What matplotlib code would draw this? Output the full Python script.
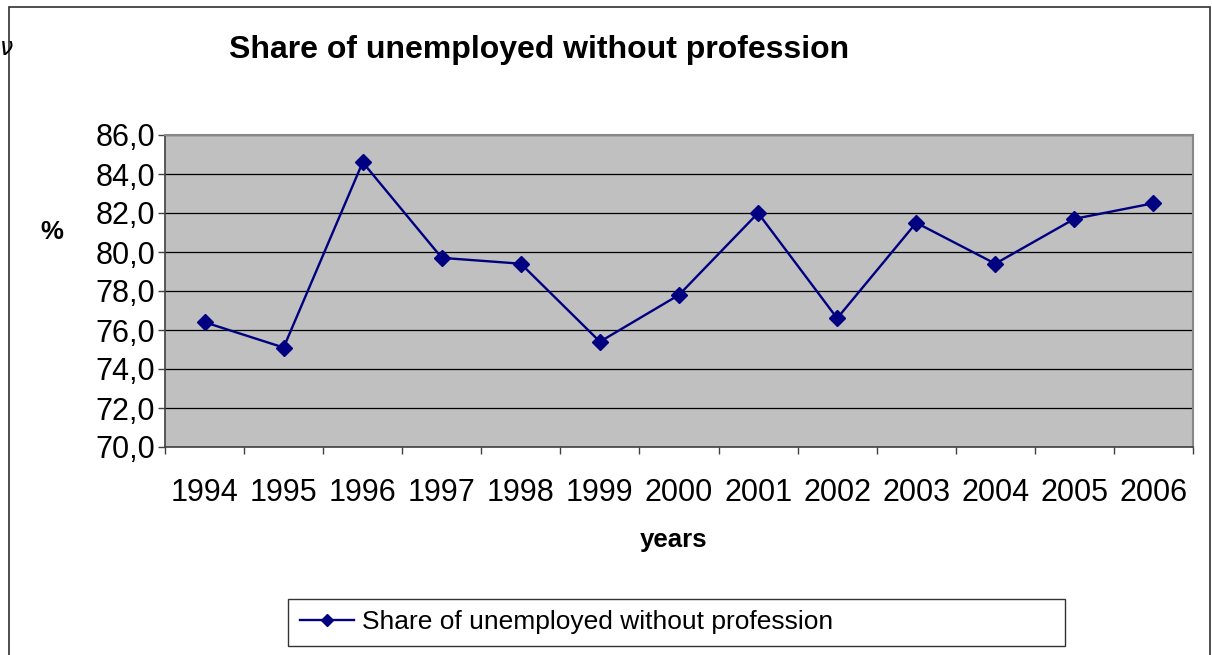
import matplotlib
matplotlib.use("Agg")
import matplotlib.pyplot as plt
from matplotlib.patches import Rectangle

years = ["1994", "1995", "1996", "1997", "1998", "1999", "2000",
         "2001", "2002", "2003", "2004", "2005", "2006"]
share = [76.4, 75.1, 84.6, 79.7, 79.4, 75.4, 77.8,
         82.0, 76.6, 81.5, 79.4, 81.7, 82.5]
yticks = [70, 72, 74, 76, 78, 80, 82, 84, 86]
ytick_labels = ["70,0", "72,0", "74,0", "76,0", "78,0", "80,0", "82,0", "84,0", "86,0"]
series_name = "Share of unemployed without profession"
title = "Share of unemployed without profession"

plt.rcParams['font.family'] = ['Liberation Sans', 'DejaVu Sans']

W, H = 1212, 655
fig = plt.figure(figsize=(W / 100, H / 100), dpi=100)
fig.patch.set_facecolor('white')

def fx(px):
    return px / W

def fy(py):
    return 1 - py / H

left, right, top, bottom = 165, 1193, 135, 447
ax = fig.add_axes([fx(left), fy(bottom), fx(right - left), (bottom - top) / H])
ax.set_facecolor('#C0C0C0')

x = list(range(len(years)))
ax.plot(x, share, color='#000080', lw=1.7, marker='D', ms=8.5,
        markerfacecolor='#000080', markeredgecolor='#000080', label=series_name,
        zorder=3)

ax.set_xlim(-0.5, len(years) - 0.5)
ax.set_ylim(70, 86)
ax.set_yticks(yticks)
ax.set_yticklabels(ytick_labels, fontsize=22)
ax.yaxis.grid(True, color='black', lw=0.9)
ax.set_axisbelow(True)

ax.set_xticks([i - 0.5 for i in range(len(years) + 1)])
ax.set_xticklabels([])
ax.set_xticks(x, minor=True)
ax.set_xticklabels(years, minor=True, fontsize=22)
ax.tick_params(axis='x', which='major', direction='out', length=5, width=1, color='#404040')
ax.tick_params(axis='x', which='minor', length=0, pad=22)
ax.tick_params(axis='y', direction='out', length=5, width=1, color='#404040', pad=2)

for s in ['left', 'bottom']:
    ax.spines[s].set_color('#404040')
    ax.spines[s].set_linewidth(1.2)
for s in ['top', 'right']:
    ax.spines[s].set_color('#888888')
    ax.spines[s].set_linewidth(1.5)

fig.text(fx(539), fy(50), title, fontsize=23, fontweight='bold',
         ha='center', va='center')
fig.text(fx(52), fy(232), "%", fontsize=18.5, fontweight='bold',
         ha='center', va='center')
fig.text(fx(674), fy(540), "years", fontsize=18.5, fontweight='bold',
         ha='center', va='center')

# stray glyph at the left edge
fig.text(fx(0), fy(48), "ν", fontsize=17, fontstyle='italic',
         family=['DejaVu Sans'], ha='left', va='center')

# outer chart border
fig.add_artist(Rectangle((fx(9), fy(700)), fx(1210 - 9), (700 - 7) / H,
                         transform=fig.transFigure, fill=False,
                         edgecolor='#303030', lw=1.2))

leg = fig.legend(loc='center', bbox_to_anchor=(fx(288), fy(648), fx(1065 - 288), (648 - 597) / H),
                 mode='expand', borderaxespad=0, fontsize=19, frameon=True,
                 fancybox=False, handlelength=2.05, handletextpad=0.3,
                 borderpad=0.45, markerscale=0.75)
leg.get_frame().set_edgecolor('black')
leg.get_frame().set_linewidth(1.0)

fig.savefig('out.png', dpi=100)
